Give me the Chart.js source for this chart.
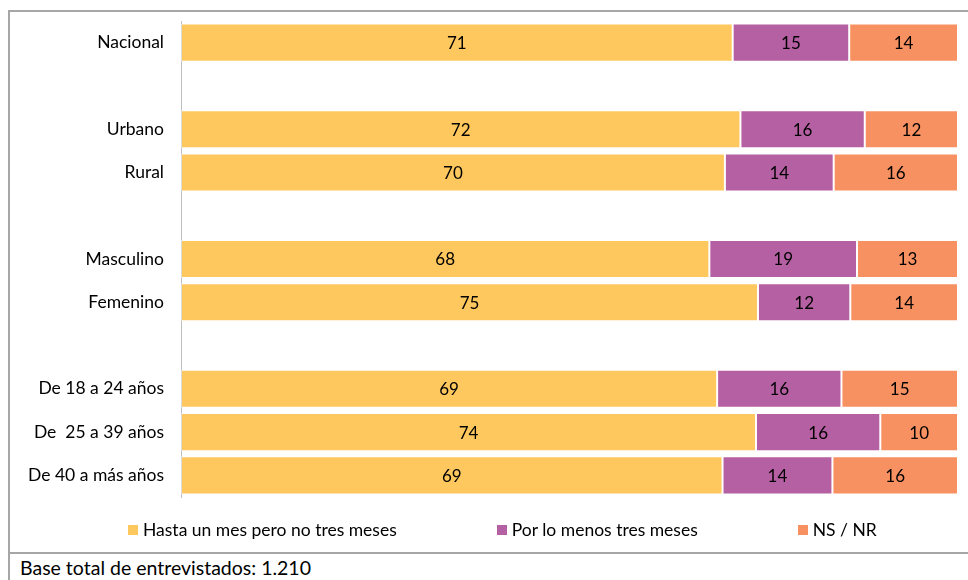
<!DOCTYPE html>
<html>
<head>
<meta charset="utf-8">
<script src="https://cdn.jsdelivr.net/npm/chart.js@4.4.0/dist/chart.umd.min.js"></script>
<style>
  body { margin: 0; background: #fff; font-family: Lato, "Open Sans", sans-serif; }
  #page { position: relative; width: 968px; height: 580px; overflow: hidden; }
  #frame {
    position: absolute; left: 8px; top: 10px; width: 960px; height: 540px;
    border-top: 2px solid #a6a6a6; border-left: 2px solid #a6a6a6; border-bottom: 2px solid #a6a6a6;
  }
  #footer {
    position: absolute; left: 8px; top: 554px; height: 26px; width: 960px;
    border-left: 2px solid #a6a6a6; font-size: 19.5px; color: #000;
    padding-left: 10px; line-height: 28px;
  }
  #chartBox { position: absolute; left: 10px; top: 12px; width: 958px; height: 540px; }
  #legend {
    position: absolute; left: 128px; top: 519px; display: flex; gap: 100px;
    font-size: 17.5px; color: #000;
  }
  .item { display: flex; align-items: center; }
  .box { width: 10px; height: 10px; margin-right: 5px; }
</style>
</head>
<body>
<div id="page">
  <div id="frame"></div>
  <div id="chartBox"><canvas id="chart" width="958" height="540"></canvas></div>
  <div id="legend"></div>
  <div id="footer">Base total de entrevistados: 1.210</div>
</div>
<script>
// Categories (blank rows are the gaps between groups)
const categories = ['Nacional', '', 'Urbano', 'Rural', '', 'Masculino', 'Femenino', '',
  'De 18 a 24 años', 'De  25 a 39 años', 'De 40 a más años'];

const hastaUnMes = [71, null, 72, 70, null, 68, 75, null, 69, 74, 69];
const porLoMenos = [15, null, 16, 14, null, 19, 12, null, 16, 16, 14];
const nsNr = [14, null, 12, 16, null, 13, 14, null, 15, 10, 16];

const seriesNames = ['Hasta un mes pero no tres meses', 'Por lo menos tres meses', 'NS / NR'];
const colors = ['#FFC85F', '#B460A2', '#F79162'];

// 100% stacked: each row is scaled to its own total
const raw = [hastaUnMes, porLoMenos, nsNr];
const totals = categories.map((c, i) => raw.reduce((s, arr) => s + (arr[i] || 0), 0));
const share = arr => arr.map((v, i) => v == null ? null : v / totals[i] * 100);

// Draw the value in the middle of each segment
const valueLabels = {
  id: 'valueLabels',
  afterDatasetsDraw(chart) {
    const ctx = chart.ctx;
    ctx.save();
    ctx.font = '17px Lato, "Open Sans", sans-serif';
    ctx.fillStyle = '#000';
    ctx.textAlign = 'center';
    ctx.textBaseline = 'middle';
    chart.data.datasets.forEach((ds, di) => {
      chart.getDatasetMeta(di).data.forEach((bar, i) => {
        const v = raw[di][i];
        if (v == null) return;
        const p = bar.getProps(['x', 'y', 'base']);
        ctx.fillText(String(v), (p.x + p.base) / 2, p.y + 1);
      });
    });
    ctx.restore();
  }
};

const chart = new Chart(document.getElementById('chart').getContext('2d'), {
  type: 'bar',
  data: {
    labels: categories,
    datasets: raw.map((arr, k) => ({
      label: seriesNames[k],
      data: share(arr),
      backgroundColor: colors[k],
      borderColor: 'rgba(255,255,255,0.45)',
      borderWidth: 1,
      borderSkipped: false,
      categoryPercentage: 1,
      barPercentage: 0.88
    }))
  },
  options: {
    indexAxis: 'y',
    responsive: false,
    animation: false,
    devicePixelRatio: 1,
    layout: { padding: { top: 9, right: 10, bottom: 55, left: 0 } },
    plugins: { legend: { display: false }, tooltip: { enabled: false } },
    scales: {
      x: { stacked: true, min: 0, max: 100, display: false },
      y: {
        stacked: true,
        grid: { display: false, drawTicks: false },
        border: { display: true, color: '#bfbfbf', width: 1 },
        ticks: { color: '#000', padding: 17, font: { family: 'Lato, "Open Sans", sans-serif', size: 17.5 } },
        afterFit(scale) {
          scale.width = 171;
          scale.paddingTop = 0;
          scale.paddingBottom = 0;
        }
      }
    }
  },
  plugins: [valueLabels]
});

// Legend as plain html
const legend = document.getElementById('legend');
seriesNames.forEach((name, k) => {
  const item = document.createElement('div');
  item.className = 'item';
  item.innerHTML = '<span class="box" style="background:' + colors[k] + '"></span><span>' + name + '</span>';
  legend.appendChild(item);
});
</script>
</body>
</html>
